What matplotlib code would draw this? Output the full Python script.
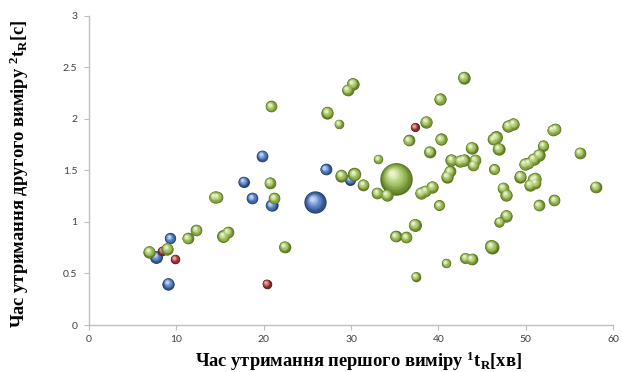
import numpy as np
import matplotlib
matplotlib.use("Agg")
import matplotlib.pyplot as plt
from matplotlib.transforms import offset_copy
from matplotlib.colors import to_rgb

# ---------------- data ----------------
blue_x = [19.85, 17.7, 18.7, 20.9, 9.3, 7.7, 9.1, 25.9, 27.1, 29.9]
blue_y = [1.64, 1.39, 1.23, 1.16, 0.84, 0.66, 0.40, 1.19, 1.51, 1.41]
blue_s = [0.9, 0.8, 0.9, 1.0, 0.85, 1.1, 1.0, 3.3, 0.9, 0.8]

red_x = [9.85, 8.4, 20.35, 37.3]
red_y = [0.64, 0.72, 0.40, 1.92]
red_s = [0.6, 0.6, 0.6, 0.55]

green_x = [6.9, 8.97, 11.3, 12.3, 14.4, 14.7, 15.4, 15.9, 20.7, 21.2, 22.4, 20.85,
           30.2, 29.6, 27.3, 28.6, 40.2, 42.9, 38.6, 36.6, 40.3, 39.0, 33.1, 28.9,
           30.4, 35.2, 31.4, 43.8, 46.9, 46.6, 46.3, 48.0, 48.6, 53.1, 53.4, 56.2,
           52.0, 51.5, 50.9, 49.9, 50.3, 41.5, 42.5, 42.9, 44.2, 44.0, 46.4, 41.3,
           41.0, 49.4, 50.9, 51.1, 47.4, 58.0, 33.0, 34.1, 38.0, 38.5, 39.3, 40.1,
           47.8, 50.5, 51.1, 51.5, 53.3, 37.3, 47.8, 47.0, 35.1, 36.3, 46.1, 40.9,
           43.1, 43.8, 37.4]
green_y = [0.71, 0.74, 0.84, 0.92, 1.24, 1.24, 0.86, 0.90, 1.38, 1.23, 0.76, 2.12,
           2.34, 2.28, 2.06, 1.95, 2.19, 2.40, 1.97, 1.79, 1.80, 1.68, 1.61, 1.45,
           1.46, 1.42, 1.36, 1.72, 1.71, 1.82, 1.80, 1.93, 1.95, 1.89, 1.90, 1.67,
           1.74, 1.65, 1.61, 1.56, 1.57, 1.60, 1.59, 1.60, 1.60, 1.55, 1.51, 1.49,
           1.44, 1.44, 1.41, 1.42, 1.33, 1.34, 1.28, 1.26, 1.28, 1.30, 1.34, 1.16,
           1.26, 1.36, 1.38, 1.16, 1.21, 0.97, 1.06, 1.00, 0.86, 0.85, 0.76, 0.60,
           0.65, 0.64, 0.47]
green_s = [1.0, 1.0, 0.9, 0.9, 1.0, 0.9, 1.1, 0.9, 0.9, 0.9, 0.9, 0.9,
           1.0, 0.9, 1.0, 0.6, 1.0, 1.0, 1.0, 0.9, 1.0, 0.9, 0.6, 1.0,
           1.2, 7.0, 0.9, 1.0, 1.0, 1.1, 0.9, 1.0, 1.0, 0.9, 0.9, 0.9,
           0.8, 1.0, 1.0, 1.0, 0.9, 1.0, 1.0, 1.0, 0.9, 0.9, 0.8, 0.9,
           1.0, 1.0, 1.0, 1.0, 0.9, 0.9, 0.9, 1.0, 1.0, 0.9, 1.0, 0.8,
           1.0, 1.0, 0.9, 0.9, 0.9, 1.1, 1.0, 0.7, 0.9, 0.9, 1.3, 0.6,
           0.8, 0.9, 0.6]

x_ticks = [0, 10, 20, 30, 40, 50, 60]
y_ticks = [0, 0.5, 1, 1.5, 2, 2.5, 3]
y_tick_labels = ["0", "0.5", "1", "1.5", "2", "2.5", "3"]

BUBBLE_SCALE = 78  # points^2 per unit bubble size

# ---------------- figure ----------------
plt.rcParams['mathtext.fontset'] = 'custom'
plt.rcParams['mathtext.rm'] = 'Liberation Serif:bold'
plt.rcParams['mathtext.bf'] = 'Liberation Serif:bold'
plt.rcParams['mathtext.it'] = 'Liberation Serif:bold'

fig = plt.figure(figsize=(6.22, 3.72), dpi=100)
ax = fig.add_axes([0.1431, 0.1263, 0.8424, 0.8315])
ax.set_xlim(0, 60)
ax.set_ylim(0, 3)


def mix(c1, c2, t):
    a = np.array(to_rgb(c1)); b = np.array(to_rgb(c2))
    return tuple(a + (b - a) * t)


def spheres(xs, ys, sizes, dark, base, light, z):
    n = 14
    for xi, yi, si in zip(xs, ys, sizes):
        s_full = si * BUBBLE_SCALE
        r_pt = np.sqrt(s_full) / 2.0
        for k in range(n):
            t = k / (n - 1)
            f = 1.0 - 0.82 * t
            if t < 0.45:
                col = mix(dark, base, t / 0.45)
            else:
                col = mix(base, light, (t - 0.45) / 0.55)
            tr = offset_copy(ax.transData, fig=fig, x=-0.28 * r_pt * t,
                             y=0.34 * r_pt * t, units='points')
            ax.scatter([xi], [yi], s=s_full * f * f, color=col, linewidths=0,
                       transform=tr, zorder=z + k * 0.001)


spheres(blue_x, blue_y, blue_s, '#26406b', '#4F7BC0', '#c4d6f2', 3)
spheres(red_x, red_y, red_s, '#5e1c1a', '#A8403C', '#e8b0ae', 4)
spheres(green_x, green_y, green_s, '#5a7421', '#9BBB59', '#eaf3c8', 5)

# ---------------- axes styling ----------------
for side in ['top', 'right']:
    ax.spines[side].set_visible(False)
for side in ['left', 'bottom']:
    ax.spines[side].set_color('#BFBFBF')
    ax.spines[side].set_linewidth(1.0)

ax.set_xticks(x_ticks)
ax.set_yticks(y_ticks)
ax.set_yticklabels(y_tick_labels)
ax.tick_params(axis='both', direction='out', length=3.5, width=0.8,
               color='#BFBFBF', labelsize=7.5, labelcolor='#404040')
ax.tick_params(axis='y', pad=5)
ax.tick_params(axis='x', pad=4)
for lab in ax.get_xticklabels() + ax.get_yticklabels():
    lab.set_family('Lato')

ax.set_xlabel('Час утримання першого виміру $^{1}\\mathrm{t}_{\\mathrm{R}}$[хв]',
              family='Liberation Serif', fontweight='bold', fontsize=13.3)
ax.set_ylabel('Час утримання другого виміру $^{2}\\mathrm{t}_{\\mathrm{R}}$[c]',
              family='Liberation Serif', fontweight='bold', fontsize=13.3)
ax.xaxis.label.set_verticalalignment('baseline')
ax.xaxis.set_label_coords(0.515, -0.136)
ax.yaxis.label.set_verticalalignment('baseline')
ax.yaxis.label.set_rotation_mode('anchor')
ax.yaxis.set_label_coords(-0.122, 0.49)

fig.savefig('out.png', dpi=100)
